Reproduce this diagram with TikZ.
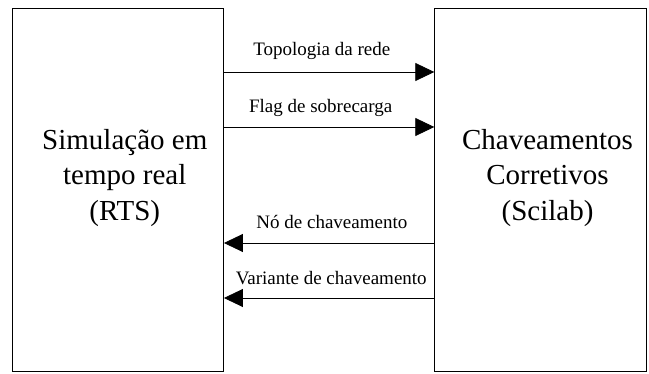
\documentclass[tikz,border=0pt]{standalone}
\usepackage{fontspec}
\setmainfont{Liberation Serif}
\usetikzlibrary{arrows.meta}
\tikzset{
  bloco/.style={draw, line width=0.9pt, minimum width=211.5pt, minimum height=363pt, inner sep=0pt},
  titulo/.style={align=center, inner sep=0pt, font=\fontsize{29}{35.5}\selectfont},
  seta/.style={line width=0.8pt, -{Triangle[length=19pt,width=18pt]}},
  rotulo/.style={anchor=base, inner sep=0pt, font=\fontsize{19}{23}\selectfont}
}
\begin{document}
\begin{tikzpicture}[x=1pt,y=-1pt]
\useasboundingbox (0,0) rectangle (649,374);
%left block
\node[bloco] (sim) at (117.75,189.5) {};
\node[titulo] (simtxt) at ([xshift=7pt,yshift=11.75pt]sim.center)
	{Simulação em\\tempo real\\(RTS)};
%right block
\node[bloco] (chav) at (540.5,189.5) {};
\node[titulo] (chavtxt) at ([xshift=7pt,yshift=11.75pt]chav.center)
	{Chaveamentos\\Corretivos\\(Scilab)};
%to the right
\draw[seta] (sim.east |- 0,72) -- node[rotulo, pos=0.465, yshift=16pt] (topo) {Topologia da rede} (chav.west |- 0,72);
\draw[seta] (sim.east |- 0,127) -- node[rotulo, pos=0.46, yshift=14pt] (flag) {Flag de sobrecarga} (chav.west |- 0,127);
%to the left
\draw[seta] (chav.west |- 0,243) -- node[rotulo, pos=0.487, yshift=14pt] (no) {Nó de chaveamento} (sim.east |- 0,243);
\draw[seta] (chav.west |- 0,298) -- node[rotulo, pos=0.49, yshift=13pt] (var) {Variante de chaveamento} (sim.east |- 0,298);
\end{tikzpicture}
\end{document}
